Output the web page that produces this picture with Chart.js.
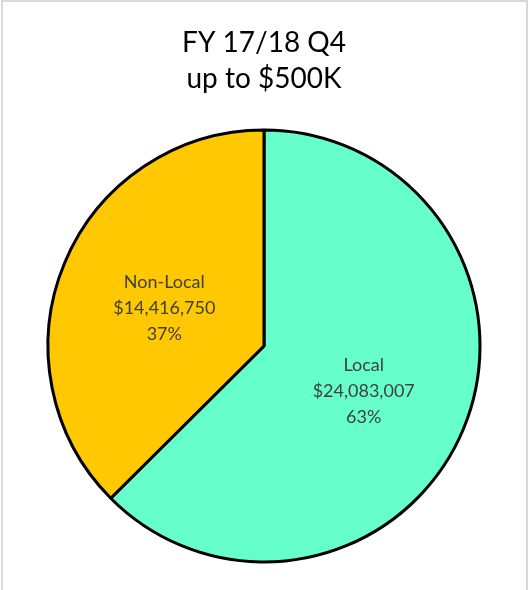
<!DOCTYPE html>
<html>
<head>
<meta charset="utf-8">
<script src="https://cdn.jsdelivr.net/npm/chart.js@4/dist/chart.umd.min.js"></script>
<style>
  html, body { margin: 0; padding: 0; background: #fff; overflow: hidden; }
  #wrap { position: absolute; left: 0; top: 0; width: 528px; height: 590px; }
  #frame { position: absolute; left: 1px; top: 0px; width: 527px; height: 600px; box-sizing: border-box; border: 2px solid #d9d9d9; pointer-events: none; }
</style>
</head>
<body>
<div id="wrap"><canvas id="c" width="528" height="590"></canvas></div>
<div id="frame"></div>
<script>
const titleLines = ["FY 17/18 Q4", "up to $500K"];
const categories = ["Local", "Non-Local"];
const values = [24083007, 14416750];
const colors = ["#66FFCC", "#FFC800"];

const total = values.reduce((a, b) => a + b, 0);
const fmt = v => "$" + v.toLocaleString("en-US");

const labelPlugin = {
  id: "sliceLabels",
  afterDatasetsDraw(chart) {
    const ctx = chart.ctx;
    const meta = chart.getDatasetMeta(0);
    ctx.save();
    ctx.font = "18px Lato";
    ctx.fillStyle = "#404040";
    ctx.textAlign = "center";
    ctx.textBaseline = "middle";
    const lh = 26;
    meta.data.forEach((arc, i) => {
      const p = arc.tooltipPosition();
      const lines = [categories[i], fmt(values[i]), Math.round(values[i] / total * 100) + "%"];
      lines.forEach((t, k) => ctx.fillText(t, p.x, p.y + 4 + (k - 1) * lh));
    });
    ctx.restore();
  }
};

new Chart(document.getElementById("c"), {
  type: "pie",
  data: {
    labels: categories,
    datasets: [{
      data: values,
      backgroundColor: colors,
      borderColor: "#000000",
      borderWidth: 3,
      borderAlign: "center",
      clip: false
    }]
  },
  options: {
    responsive: false,
    animation: false,
    radius: 216,
    layout: { padding: { left: 0, right: 0, top: 0, bottom: 8 } },
    plugins: {
      legend: { display: false },
      tooltip: { enabled: false },
      title: {
        display: true,
        text: titleLines,
        color: "#000000",
        font: { family: "Lato", size: 28, weight: "normal", lineHeight: 1.29 },
        padding: { top: 24.5, bottom: 13.3 }
      }
    }
  },
  plugins: [labelPlugin]
});
</script>
</body>
</html>
